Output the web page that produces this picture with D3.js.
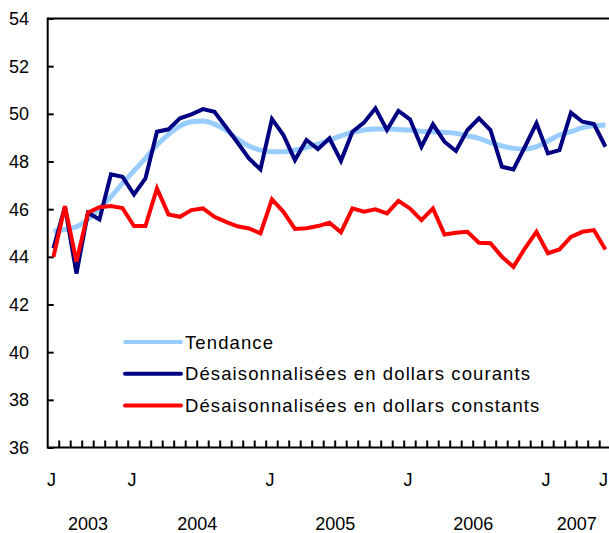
<!DOCTYPE html>
<html>
<head>
<meta charset="utf-8">
<script src="https://cdn.jsdelivr.net/npm/d3@7"></script>
<style>
  body { margin: 0; background: #fff; }
  text { font-family: "Liberation Sans", Arial, sans-serif; fill: #000; }
</style>
</head>
<body>
<div id="chart"></div>
<script>
// months: June 2003 .. June 2007
const months = d3.timeMonth.range(new Date(2003, 5, 1), new Date(2007, 6, 1));

const tendance = [45.08, 45.15, 45.26, 45.57, 46.03, 46.52, 47.08, 47.61, 48.13, 48.69,
  49.14, 49.49, 49.67, 49.70, 49.57, 49.32, 48.94, 48.65, 48.48, 48.41,
  48.41, 48.48, 48.59, 48.73, 48.90, 49.08, 49.22, 49.32, 49.36, 49.36,
  49.34, 49.32, 49.27, 49.25, 49.22, 49.18, 49.07, 48.97, 48.79, 48.65,
  48.55, 48.52, 48.62, 48.86, 49.11, 49.25, 49.42, 49.50, 49.53];

const courants = [44.36, 46.1, 43.3, 45.85, 45.57, 47.46, 47.36, 46.62, 47.29, 49.25,
  49.35, 49.81, 49.98, 50.2, 50.09, 49.45, 48.8, 48.13, 47.67, 49.78,
  49.11, 48.06, 48.90, 48.52, 48.97, 48.03, 49.25, 49.63, 50.23, 49.32,
  50.12, 49.77, 48.62, 49.56, 48.83, 48.44, 49.32, 49.81, 49.32, 47.78,
  47.67, 48.62, 49.60, 48.34, 48.48, 50.05, 49.67, 49.57, 48.62];

const constants = [44.0, 46.13, 43.8, 45.85, 46.08, 46.13, 46.05, 45.29, 45.29, 46.87,
  45.78, 45.68, 45.96, 46.03, 45.68, 45.47, 45.28, 45.19, 44.99, 46.41,
  45.89, 45.17, 45.20, 45.29, 45.43, 45.03, 46.03, 45.89, 45.99, 45.82,
  46.35, 46.03, 45.54, 46.03, 44.94, 45.01, 45.05, 44.59, 44.57, 44.0,
  43.58, 44.36, 45.05, 44.15, 44.31, 44.84, 45.05, 45.12, 44.31];

const yTicks = [36, 38, 40, 42, 44, 46, 48, 50, 52, 54];
const years = [2003, 2004, 2005, 2006, 2007];

const series = [
  { name: "Tendance", values: tendance, color: "#99ccff", width: 5, smooth: true },
  { name: "Désaisonnalisées en dollars courants", values: courants, color: "#000080", width: 4 },
  { name: "Désaisonnalisées en dollars constants", values: constants, color: "#ff0000", width: 4 }
];

const W = 609, H = 533;
const plotLeft = 47.7, plotTop = 18.5, plotBottom = 447.5, bandW = 11.5;

const svg = d3.select("#chart").append("svg")
  .attr("width", W)
  .attr("height", H);

const x = d3.scaleBand()
  .domain(d3.range(months.length))
  .range([plotLeft, plotLeft + bandW * months.length])
  .paddingInner(0).paddingOuter(0);

const y = d3.scaleLinear()
  .domain([36, 54])
  .range([plotBottom, plotTop]);

const cx = i => x(i) + x.bandwidth() / 2;

// y axis: ticks inward, labels left
const yAxis = svg.append("g")
  .attr("transform", `translate(${plotLeft},0)`)
  .call(d3.axisRight(y).tickValues(yTicks).tickSize(6).tickFormat(""));
yAxis.select(".domain").remove();
yAxis.selectAll(".tick line").attr("stroke", "#000").attr("stroke-width", 2);

svg.append("g").selectAll("text")
  .data(yTicks)
  .join("text")
  .attr("x", 29)
  .attr("y", d => y(d) + 6.5)
  .attr("text-anchor", "end")
  .attr("font-size", 18)
  .text(d => d);

// frame lines: left, top, bottom
svg.append("line").attr("x1", plotLeft).attr("x2", plotLeft).attr("y1", plotTop - 1).attr("y2", plotBottom + 1)
  .attr("stroke", "#000").attr("stroke-width", 2);
svg.append("line").attr("x1", plotLeft).attr("x2", W).attr("y1", plotTop).attr("y2", plotTop)
  .attr("stroke", "#000").attr("stroke-width", 2);
svg.append("line").attr("x1", plotLeft).attr("x2", W).attr("y1", plotBottom).attr("y2", plotBottom)
  .attr("stroke", "#000").attr("stroke-width", 2);

// monthly ticks at band boundaries, pointing up
svg.append("g").selectAll("line")
  .data(d3.range(1, months.length))
  .join("line")
  .attr("x1", i => x(i)).attr("x2", i => x(i))
  .attr("y1", plotBottom).attr("y2", plotBottom - 7)
  .attr("stroke", "#000").attr("stroke-width", 2);

// month labels: first, each January, last
const labelIdx = d3.range(months.length)
  .filter(i => i === 0 || i === months.length - 1 || months[i].getMonth() === 0);
svg.append("g").selectAll("text")
  .data(labelIdx)
  .join("text")
  .attr("x", i => cx(i) - 2)
  .attr("y", 486)
  .attr("text-anchor", "middle")
  .attr("font-size", 18)
  .text("J");

// year labels centred on the months they span
svg.append("g").selectAll("text")
  .data(years)
  .join("text")
  .attr("x", yr => {
    const idx = d3.range(months.length).filter(i => months[i].getFullYear() === yr);
    return (x(idx[0]) + x(idx[idx.length - 1]) + x.bandwidth()) / 2;
  })
  .attr("y", 530)
  .attr("text-anchor", "middle")
  .attr("font-size", 18)
  .text(yr => yr);

// lines
series.forEach(s => {
  const line = d3.line()
    .x((d, i) => cx(i))
    .y(d => y(d))
    .curve(s.smooth ? d3.curveMonotoneX : d3.curveLinear);
  svg.append("path")
    .datum(s.values)
    .attr("fill", "none")
    .attr("stroke", s.color)
    .attr("stroke-width", s.width)
    .attr("stroke-linejoin", "miter")
    .attr("d", line);
});

// legend
const legend = svg.append("g").attr("transform", "translate(125,342)");
const item = legend.selectAll("g")
  .data(series)
  .join("g")
  .attr("transform", (d, i) => `translate(0,${i * 31.7})`);
item.append("line")
  .attr("x1", 0).attr("x2", 56)
  .attr("stroke", d => d.color)
  .attr("stroke-width", 4)
  .attr("stroke-linecap", "round");
item.append("text")
  .attr("x", 60)
  .attr("y", 6.5)
  .attr("font-size", 18.5)
  .attr("letter-spacing", 1.1)
  .text(d => d.name);
</script>
</body>
</html>
